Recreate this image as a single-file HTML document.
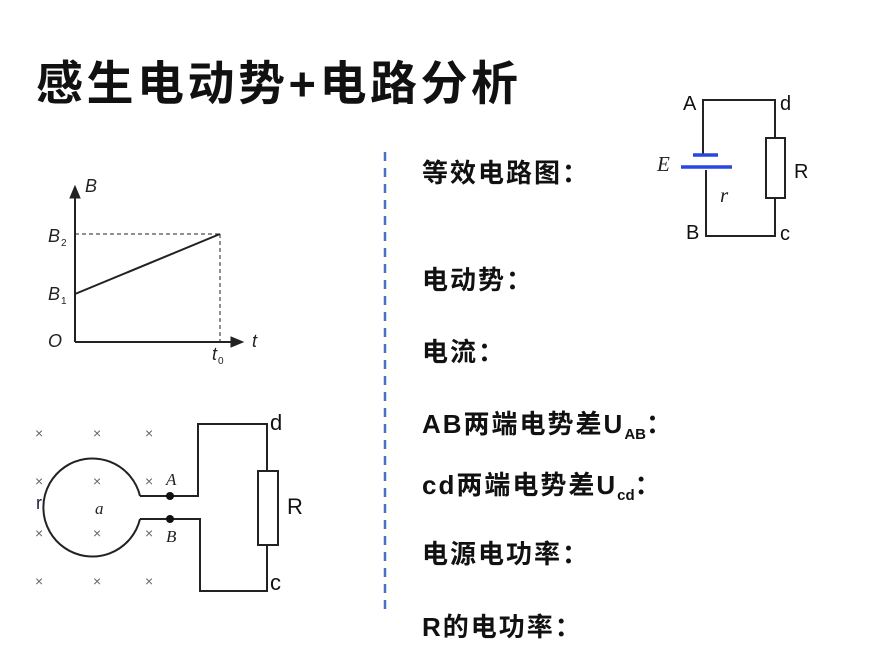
<!DOCTYPE html>
<html><head><meta charset="utf-8"><style>
body{margin:0;width:890px;height:665px;background:#fff;overflow:hidden;position:relative;font-family:"Liberation Sans","Noto Sans CJK SC",sans-serif}
.t{position:absolute;left:36px;top:45px;font-size:47px;font-weight:bold;color:#111;letter-spacing:3.5px}
.r{position:absolute;left:422px;font-size:26px;font-weight:bold;color:#111;letter-spacing:2px}
sub{font-size:15px;letter-spacing:0}
</style></head><body>
<div class="t">感生电动势+电路分析</div>
<div class="r" style="top:153px">等效电路图：</div>
<div class="r" style="top:260px">电动势：</div>
<div class="r" style="top:332px">电流：</div>
<div class="r" style="top:404px">AB两端电势差U<sub>AB</sub>：</div>
<div class="r" style="top:465px">cd两端电势差U<sub>cd</sub>：</div>
<div class="r" style="top:534px">电源电功率：</div>
<div class="r" style="top:607px">R的电功率：</div>
<svg width="890" height="665" style="position:absolute;left:0;top:0" font-family="Liberation Sans,sans-serif">
<line x1="385" y1="152" x2="385" y2="612" stroke="#4472c4" stroke-width="2.5" stroke-dasharray="9,7"/>
<g stroke="#222" fill="none">
<line x1="75" y1="342" x2="75" y2="195" stroke-width="2"/>
<polygon points="75,186 70,198 80,198" fill="#222"/>
<line x1="75" y1="342" x2="232" y2="342" stroke-width="2"/>
<polygon points="243,342 231,337 231,347" fill="#222"/>
<line x1="75" y1="294" x2="220" y2="234" stroke-width="2"/>
<line x1="75" y1="234" x2="220" y2="234" stroke-width="1" stroke-dasharray="4,3"/>
<line x1="220" y1="234" x2="220" y2="342" stroke-width="1" stroke-dasharray="4,3"/>
</g>
<g font-style="italic" font-size="18" fill="#222">
<text x="85" y="192">B</text>
<text x="48" y="242">B</text><text x="61" y="246" font-size="10" font-style="normal">2</text>
<text x="48" y="300">B</text><text x="61" y="304" font-size="10" font-style="normal">1</text>
<text x="48" y="347">O</text>
<text x="252" y="347">t</text>
<text x="212" y="360">t</text><text x="218" y="364" font-size="10" font-style="normal">0</text>
</g>
<g fill="#666" font-size="14">
<text x="35" y="438">×</text><text x="93" y="438">×</text><text x="145" y="438">×</text>
<text x="35" y="486">×</text><text x="93" y="486">×</text><text x="145" y="486">×</text>
<text x="35" y="538">×</text><text x="93" y="538">×</text><text x="145" y="538">×</text>
<text x="35" y="586">×</text><text x="93" y="586">×</text><text x="145" y="586">×</text>
</g>
<g stroke="#222" stroke-width="2" fill="none">
<path d="M140,496 A49,49 0 1 0 140,519"/>
<polyline points="140,496 198,496 198,424 267,424 267,471"/>
<polyline points="140,519 200,519 200,591 267,591 267,545"/>
<rect x="258" y="471" width="20" height="74"/>
</g>
<circle cx="170" cy="496" r="4" fill="#111"/><circle cx="170" cy="519" r="4" fill="#111"/>
<g font-family="Liberation Serif,serif" font-style="italic" font-size="17" fill="#222">
<text x="166" y="485">A</text><text x="166" y="542">B</text><text x="95" y="514">a</text>
</g>
<text x="36" y="509" font-size="18" fill="#224">r</text>
<text x="270" y="430" font-size="22" fill="#111">d</text>
<text x="270" y="590" font-size="22" fill="#111">c</text>
<text x="287" y="514" font-size="22" fill="#111">R</text>
<g stroke="#222" stroke-width="2" fill="none">
<polyline points="703,155 703,100 775,100 775,138"/>
<polyline points="706,170 706,236 775,236 775,198"/>
<rect x="766" y="138" width="19" height="60"/>
</g>
<line x1="693" y1="155" x2="718" y2="155" stroke="#2846e0" stroke-width="3.5"/>
<line x1="681" y1="167" x2="732" y2="167" stroke="#2846e0" stroke-width="3.5"/>
<g font-size="20" fill="#111">
<text x="683" y="110">A</text><text x="780" y="110">d</text>
<text x="794" y="178">R</text><text x="686" y="239">B</text><text x="780" y="240">c</text>
</g>
<g font-family="Liberation Serif,serif" font-style="italic" font-size="21" fill="#222">
<text x="657" y="171">E</text><text x="720" y="202">r</text>
</g>
</svg>
</body></html>
